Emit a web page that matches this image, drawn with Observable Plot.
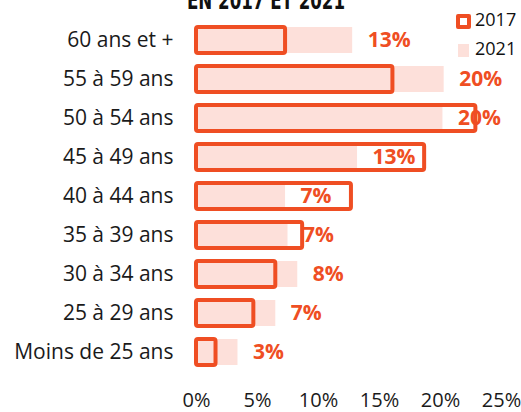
<!DOCTYPE html>
<html>
<head>
<meta charset="utf-8">
<script src="https://cdn.jsdelivr.net/npm/d3@7"></script>
<script src="https://cdn.jsdelivr.net/npm/@observablehq/plot@0.6"></script>
<style>
  html, body { margin: 0; padding: 0; background: #fff; }
  #wrap { position: relative; width: 521px; height: 412px; overflow: hidden; font-family: "Open Sans", sans-serif; }
  #title { position: absolute; left: 0; width: 532px; text-align: center; top: -12px; font-family: "Liberation Sans Narrow", "DejaVu Sans Condensed", sans-serif; font-weight: bold; font-size: 25px; line-height: 25px; color: #111; transform: scaleX(0.74); transform-origin: 266px 0; }
  .leg { position: absolute; left: 456px; font-size: 18px; color: #111; line-height: 18px; }
  .leg span.sw { display: inline-block; vertical-align: middle; box-sizing: border-box; }
  .leg span.tx { position: absolute; left: 19px; top: 0; }
</style>
</head>
<body>
<div id="wrap">
  <div id="chart"></div>
  <div id="title"></div>
  <div class="leg" id="leg1" style="top:10px"><span class="sw" style="width:15px;height:15px;border:4px solid #ef4e23;border-radius:2px;background:#fff;"></span><span class="tx"></span></div>
  <div class="leg" id="leg2" style="top:39px"><span class="sw" style="width:11px;height:13px;margin-left:2px;background:#fde0da;"></span><span class="tx"></span></div>
</div>
<script>
const titleText = "EN 2017 ET 2021";
const seriesNames = ["2017", "2021"];
const categories = ["60 ans et +", "55 à 59 ans", "50 à 54 ans", "45 à 49 ans", "40 à 44 ans", "35 à 39 ans", "30 à 34 ans", "25 à 29 ans", "Moins de 25 ans"];
const values2017 = [7.3, 16.1, 22.9, 18.7, 12.7, 8.7, 6.5, 4.7, 1.6];
const values2021 = [12.8, 20.3, 20.2, 13.2, 7.3, 7.5, 8.3, 6.5, 3.4];
const labels2021 = ["13%", "20%", "20%", "13%", "7%", "7%", "8%", "7%", "3%"];
const xTicks = [0, 5, 10, 15, 20, 25];

const orange = "#ef4e23";
const pink = "#fde0da";

document.getElementById("title").textContent = titleText;
document.querySelector("#leg1 .tx").textContent = seriesNames[0];
document.querySelector("#leg2 .tx").textContent = seriesNames[1];

const rows = categories.map((c, i) => ({cat: c, v17: values2017[i], v21: values2021[i], label: labels2021[i]}));

const chart = Plot.plot({
  width: 521,
  height: 412,
  marginLeft: 196,
  marginRight: 20,
  marginTop: 14,
  marginBottom: 34,
  style: {fontFamily: "Open Sans, sans-serif", color: "#1a1a1a", background: "transparent"},
  x: {domain: [0, 25], axis: null},
  y: {domain: categories, padding: 0.333, axis: null},
  marks: [
    Plot.barX(rows, {y: "cat", x: "v21", fill: pink}),
    Plot.barX(rows, {y: "cat", x: "v17", fill: "none", stroke: orange, strokeWidth: 4, rx: 2}),
    Plot.text(rows, {y: "cat", x: "v21", text: "label", dx: 15, textAnchor: "start", fill: orange, fontWeight: "bold", fontSize: 21}),
    Plot.axisY({tickSize: 0, tickPadding: 23, fontSize: 21, fill: "#1a1a1a", label: null}),
    Plot.axisX({ticks: xTicks, tickSize: 0, tickPadding: 14, fontSize: 20, tickFormat: d => d + "%", fill: "#1a1a1a", label: null})
  ]
});
document.getElementById("chart").appendChild(chart);
</script>
</body>
</html>
